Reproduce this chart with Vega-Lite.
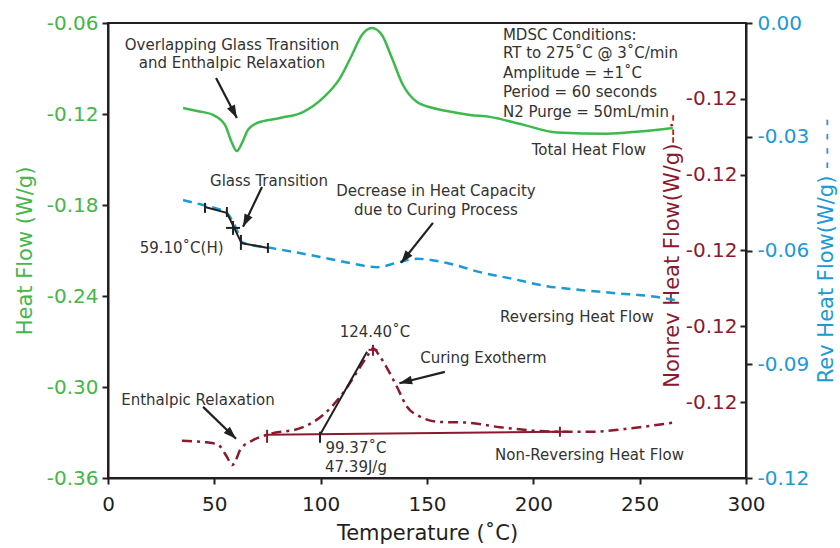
{
  "$schema": "https://vega.github.io/schema/vega-lite/v6.json",
  "width": 638,
  "height": 455,
  "autosize": "none",
  "padding": {"left": 108, "top": 23, "right": 94, "bottom": 70},
  "background": "white",
  "config": {
    "font": "DejaVu Sans",
    "view": {"stroke": "#231f20", "strokeWidth": 2},
    "axis": {"grid": false, "titleFontWeight": "normal", "labelFontSize": 20, "titleFontSize": 21, "domainColor": "#231f20", "domainWidth": 2, "tickColor": "#231f20", "tickWidth": 2, "tickSize": 6, "labelPadding": 4, "labelFlush": false, "labelOverlap": false}
  },
  "datasets": {
    "total": [
      {"T": 35.3, "v": -0.1160}, {"T": 42, "v": -0.1180}, {"T": 49.4, "v": -0.1206}, {"T": 55.0, "v": -0.1272},
      {"T": 58.3, "v": -0.1391}, {"T": 60.6, "v": -0.1444}, {"T": 63.0, "v": -0.1391}, {"T": 65.8, "v": -0.1305},
      {"T": 70.1, "v": -0.1259}, {"T": 80.9, "v": -0.1226}, {"T": 91.7, "v": -0.1187}, {"T": 101.1, "v": -0.1094},
      {"T": 109.1, "v": -0.0963}, {"T": 114.7, "v": -0.0811}, {"T": 119.4, "v": -0.0679}, {"T": 124.1, "v": -0.0633},
      {"T": 128.8, "v": -0.0679}, {"T": 133.5, "v": -0.0831}, {"T": 138.7, "v": -0.1009}, {"T": 145.3, "v": -0.1121},
      {"T": 152.8, "v": -0.1160}, {"T": 160, "v": -0.1182}, {"T": 170.2, "v": -0.1206}, {"T": 179.6, "v": -0.1219},
      {"T": 195, "v": -0.1270}, {"T": 211.1, "v": -0.1322}, {"T": 234.6, "v": -0.1330}, {"T": 250, "v": -0.1315},
      {"T": 265.6, "v": -0.1292}
    ],
    "rev": [
      {"T": 35.3, "v": -0.0467}, {"T": 44.7, "v": -0.0480}, {"T": 50.3, "v": -0.0488}, {"T": 55.9, "v": -0.0501},
      {"T": 58.3, "v": -0.0520}, {"T": 60.6, "v": -0.0546}, {"T": 63.0, "v": -0.0578}, {"T": 66.8, "v": -0.0585},
      {"T": 76.2, "v": -0.0593}, {"T": 99.7, "v": -0.0617}, {"T": 113.8, "v": -0.0633}, {"T": 126.5, "v": -0.0644},
      {"T": 137.3, "v": -0.0630}, {"T": 145.3, "v": -0.0622}, {"T": 159.4, "v": -0.0633}, {"T": 174.9, "v": -0.0657},
      {"T": 190.4, "v": -0.0675}, {"T": 206.4, "v": -0.0694}, {"T": 221.9, "v": -0.0704}, {"T": 237.4, "v": -0.0712},
      {"T": 260.9, "v": -0.0725}, {"T": 266.6, "v": -0.0731}
    ],
    "nonrev": [
      {"T": 34.8, "v": -0.12251}, {"T": 46.5, "v": -0.12253}, {"T": 51.7, "v": -0.12256}, {"T": 55.9, "v": -0.12272},
      {"T": 58.3, "v": -0.12283}, {"T": 60.2, "v": -0.12276}, {"T": 62.1, "v": -0.12263}, {"T": 68.2, "v": -0.12250},
      {"T": 74.8, "v": -0.12243}, {"T": 91.7, "v": -0.12233}, {"T": 101.1, "v": -0.12217}, {"T": 110.5, "v": -0.12188},
      {"T": 118.5, "v": -0.12154}, {"T": 122.2, "v": -0.12138}, {"T": 124.6, "v": -0.12129}, {"T": 127.9, "v": -0.12140},
      {"T": 131.2, "v": -0.12155}, {"T": 135.9, "v": -0.12180}, {"T": 140.6, "v": -0.12206}, {"T": 146.7, "v": -0.12219},
      {"T": 156.1, "v": -0.12226}, {"T": 168.8, "v": -0.12227}, {"T": 184.3, "v": -0.12233}, {"T": 212.5, "v": -0.12239},
      {"T": 226.6, "v": -0.12239}, {"T": 250.1, "v": -0.12233}, {"T": 265.6, "v": -0.12227}
    ],
    "segBlack": [
      {"T": 45.6, "v": -0.1813, "T2": 55.9, "v2": -0.1852},
      {"T": 45.6, "v": -0.1786, "T2": 45.6, "v2": -0.1852},
      {"T": 55.9, "v": -0.1813, "T2": 55.9, "v2": -0.1879},
      {"T": 55.9, "v": -0.1852, "T2": 62.5, "v2": -0.2043},
      {"T": 55.5, "v": -0.1951, "T2": 62.1, "v2": -0.1951},
      {"T": 58.8, "v": -0.1905, "T2": 58.8, "v2": -0.1997},
      {"T": 62.5, "v": -0.1997, "T2": 62.5, "v2": -0.2096},
      {"T": 62.5, "v": -0.2050, "T2": 75.2, "v2": -0.2083},
      {"T": 75.2, "v": -0.2050, "T2": 75.2, "v2": -0.2116},
      {"T": 99.7, "v": -0.3315, "T2": 121.8, "v2": -0.2768},
      {"T": 99.7, "v": -0.3295, "T2": 99.7, "v2": -0.3368}
    ],
    "segRed": [
      {"T": 74.8, "v": -0.3315, "T2": 212.5, "v2": -0.3295},
      {"T": 74.8, "v": -0.3282, "T2": 74.8, "v2": -0.3368},
      {"T": 208.7, "v": -0.3295, "T2": 216.3, "v2": -0.3295},
      {"T": 212.5, "v": -0.3262, "T2": 212.5, "v2": -0.3328},
      {"T": 124.6, "v": -0.2722, "T2": 124.6, "v2": -0.2794},
      {"T": 122.5, "v": -0.2755, "T2": 126.7, "v2": -0.2755}
    ],
    "arrows": [
      {"T": 50.8, "v": -0.0962, "T2": 60.6, "v2": -0.1226},
      {"T": 72.4, "v": -0.1681, "T2": 63.5, "v2": -0.1944},
      {"T": 152.8, "v": -0.1918, "T2": 137.8, "v2": -0.2182},
      {"T": 158.4, "v": -0.2900, "T2": 137.0, "v2": -0.2975},
      {"T": 44.7, "v": -0.3131, "T2": 60.2, "v2": -0.3341}
    ],
    "notes": [
      {"T": 58.3, "v": -0.0745, "label": "Overlapping Glass Transition"},
      {"T": 58.3, "v": -0.0864, "label": "and Enthalpic Relaxation"},
      {"T": 75.7, "v": -0.1641, "label": "Glass Transition"},
      {"T": 34.6, "v": -0.2083, "label": "59.10˚C(H)"},
      {"T": 154.2, "v": -0.1707, "label": "Decrease in Heat Capacity"},
      {"T": 154.2, "v": -0.1832, "label": "due to Curing Process"},
      {"T": 226.1, "v": -0.1437, "label": "Total Heat Flow"},
      {"T": 220.5, "v": -0.2537, "label": "Reversing Heat Flow"},
      {"T": 125.5, "v": -0.2636, "label": "124.40˚C"},
      {"T": 176.5, "v": -0.2808, "label": "Curing Exotherm"},
      {"T": 42.3, "v": -0.3085, "label": "Enthalpic Relaxation"},
      {"T": 116.6, "v": -0.3401, "label": "99.37˚C"},
      {"T": 116.6, "v": -0.3526, "label": "47.39J/g"},
      {"T": 226.4, "v": -0.3447, "label": "Non-Reversing Heat Flow"}
    ],
    "conditions": [
      {"T": 185.7, "v": -0.0679, "label": "MDSC Conditions:"},
      {"T": 185.7, "v": -0.0798, "label": "RT to 275˚C @ 3˚C/min"},
      {"T": 185.7, "v": -0.0930, "label": "Amplitude = ±1˚C"},
      {"T": 185.7, "v": -0.1055, "label": "Period = 60 seconds"},
      {"T": 185.7, "v": -0.1187, "label": "N2 Purge = 50mL/min"}
    ]
  },
  "layer": [
    {
      "data": {"name": "rev"},
      "mark": {"type": "line", "color": "#1a9ad6", "strokeWidth": 2.5, "strokeDash": [9, 6], "interpolate": "monotone"},
      "encoding": {
        "x": {"field": "T", "type": "quantitative", "title": "Temperature (˚C)", "scale": {"domain": [0, 300], "nice": false}},
        "y": {"field": "v", "type": "quantitative", "scale": {"domain": [-0.12, 0], "nice": false, "zero": false},
          "axis": {"orient": "right", "title": "Rev Heat Flow(W/g) - - - -", "titleAngle": -90, "titleBaseline": "top", "values": [-0.12, -0.09, -0.06, -0.03, 0], "labelExpr": "replace(format(datum.value, '.2f'), '\u2212', '-')", "labelColor": "#1a9ad6", "titleColor": "#1a9ad6", "labelPadding": 5, "titlePadding": 7}}
      }
    },
    {
      "data": {"name": "nonrev"},
      "mark": {"type": "line", "color": "#8b1a2e", "strokeWidth": 2.5, "strokeDash": [10, 5, 3, 5], "interpolate": "monotone"},
      "encoding": {
        "x": {"field": "T", "type": "quantitative", "title": "Temperature (˚C)", "scale": {"domain": [0, 300], "nice": false}},
        "y": {"field": "v", "type": "quantitative", "scale": {"domain": [-0.123, -0.117], "nice": false, "zero": false},
          "axis": {"orient": "left", "offset": -638, "title": "Nonrev Heat Flow(W/g)--·-", "values": [-0.122, -0.121, -0.12, -0.119, -0.118], "labelExpr": "replace(format(datum.value, '.2f'), '\u2212', '-')", "labelColor": "#8b1a2e", "titleColor": "#8b1a2e", "domain": false, "labelPadding": 3, "titlePadding": 3}}
      }
    },
    {
      "layer": [
        {
          "data": {"name": "total"},
          "mark": {"type": "line", "color": "#3dba4e", "strokeWidth": 2.5, "interpolate": "monotone"},
          "encoding": {
            "x": {"field": "T", "type": "quantitative", "title": "Temperature (˚C)", "scale": {"domain": [0, 300], "nice": false},
              "axis": {"values": [0, 50, 100, 150, 200, 250, 300], "labelColor": "#231f20", "titleColor": "#231f20", "labelPadding": 10, "titlePadding": 8}},
            "y": {"field": "v", "type": "quantitative", "title": "Heat Flow (W/g)", "scale": {"domain": [-0.36, -0.06], "nice": false, "zero": false},
              "axis": {"orient": "left", "values": [-0.36, -0.30, -0.24, -0.18, -0.12, -0.06], "labelExpr": "replace(format(datum.value, '.2f'), '\u2212', '-')", "labelColor": "#45b649", "titleColor": "#45b649", "titlePadding": 11}}
          }
        },
        {
          "data": {"name": "segRed"},
          "mark": {"type": "rule", "color": "#8b1a2e", "strokeWidth": 2},
          "encoding": {
            "x": {"field": "T", "type": "quantitative", "title": "Temperature (˚C)"},
            "x2": {"field": "T2"},
            "y": {"field": "v", "type": "quantitative", "title": "Heat Flow (W/g)"},
            "y2": {"field": "v2"}
          }
        },
        {
          "data": {"name": "segBlack"},
          "mark": {"type": "rule", "color": "#231f20", "strokeWidth": 2},
          "encoding": {
            "x": {"field": "T", "type": "quantitative", "title": "Temperature (˚C)"},
            "x2": {"field": "T2"},
            "y": {"field": "v", "type": "quantitative", "title": "Heat Flow (W/g)"},
            "y2": {"field": "v2"}
          }
        },
        {
          "data": {"name": "arrows"},
          "mark": {"type": "rule", "color": "#231f20", "strokeWidth": 2.2},
          "encoding": {
            "x": {"field": "T", "type": "quantitative", "title": "Temperature (˚C)"},
            "x2": {"field": "T2"},
            "y": {"field": "v", "type": "quantitative", "title": "Heat Flow (W/g)"},
            "y2": {"field": "v2"}
          }
        },
        {
          "data": {"name": "arrows"},
          "transform": [{"calculate": "(atan2((datum.T2 - datum.T) * 2.127, (datum.v2 - datum.v) * 1516.7) * 180 / PI + 360) % 360", "as": "ang"}],
          "mark": {"type": "point", "shape": "M0,0L0.55,1.6L-0.55,1.6Z", "filled": true, "color": "#231f20", "opacity": 1, "size": 256},
          "encoding": {
            "x": {"field": "T2", "type": "quantitative", "title": "Temperature (˚C)"},
            "y": {"field": "v2", "type": "quantitative", "title": "Heat Flow (W/g)"},
            "angle": {"field": "ang", "type": "quantitative", "scale": null}
          }
        },
        {
          "data": {"name": "notes"},
          "mark": {"type": "text", "fontSize": 15, "color": "#333333", "align": "center", "baseline": "middle"},
          "encoding": {
            "x": {"field": "T", "type": "quantitative", "title": "Temperature (˚C)"},
            "y": {"field": "v", "type": "quantitative", "title": "Heat Flow (W/g)"},
            "text": {"field": "label"}
          }
        },
        {
          "data": {"name": "conditions"},
          "mark": {"type": "text", "fontSize": 15, "color": "#333333", "align": "left", "baseline": "middle"},
          "encoding": {
            "x": {"field": "T", "type": "quantitative", "title": "Temperature (˚C)"},
            "y": {"field": "v", "type": "quantitative", "title": "Heat Flow (W/g)"},
            "text": {"field": "label"}
          }
        }
      ]
    }
  ],
  "resolve": {"scale": {"y": "independent"}, "axis": {"y": "independent"}}
}
